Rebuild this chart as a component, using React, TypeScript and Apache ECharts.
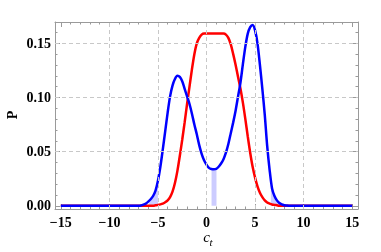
import React, { useEffect, useRef } from "react";
import * as echarts from "echarts";

const xTicks = [-15, -10, -5, 0, 5, 10, 15];
const yTicks = [0, 0.05, 0.1, 0.15];
const xGrid = [-10, -5, 0, 5, 10];
const yGrid = [0.05, 0.1, 0.15];

const blueX = [-15, -7, -6.75, -6.5, -6.25, -6, -5.75, -5.5, -5.25, -5, -4.75, -4.5, -4.25, -4, -3.75, -3.5, -3.25, -3, -2.75, -2.5, -2.25, -2, -1.75, -1.5, -1.25, -1, -0.75, -0.5, -0.25, 0, 0.25, 0.5, 0.75, 1, 1.25, 1.5, 1.75, 2, 2.25, 2.5, 2.75, 3, 3.25, 3.5, 3.75, 4, 4.25, 4.5, 4.75, 5, 5.25, 5.5, 5.75, 6, 6.25, 6.5, 6.75, 7, 7.25, 7.5, 7.75, 8, 8.25, 8.5, 15];
const blueY = [0, 0, 0.0003, 0.001, 0.002, 0.0038, 0.006, 0.009, 0.014, 0.023, 0.036, 0.052, 0.069, 0.086, 0.101, 0.111, 0.117, 0.12, 0.119, 0.115, 0.108, 0.101, 0.094, 0.085, 0.075, 0.066, 0.056, 0.048, 0.042, 0.038, 0.035, 0.034, 0.0337, 0.034, 0.036, 0.039, 0.043, 0.049, 0.057, 0.067, 0.077, 0.088, 0.101, 0.114, 0.131, 0.147, 0.159, 0.165, 0.167, 0.162, 0.15, 0.13, 0.108, 0.084, 0.055, 0.033, 0.016, 0.009, 0.005, 0.0025, 0.0012, 0.0005, 0.0002, 0, 0];

const redX = [-15, -5.5, -5.25, -5, -4.75, -4.5, -4.25, -4, -3.75, -3.5, -3.25, -3, -2.75, -2.5, -2.25, -2, -1.75, -1.5, -1.25, -1, -0.75, -0.5, -0.25, 0, 0.5, 1, 1.5, 1.75, 2, 2.25, 2.5, 2.75, 3, 3.25, 3.5, 3.75, 4, 4.25, 4.5, 4.75, 5, 5.25, 5.5, 5.75, 6, 6.25, 6.5, 6.75, 7, 7.25, 7.5, 15];
const redY = [0, 0, 0.0004, 0.0008, 0.0013, 0.002, 0.0032, 0.005, 0.008, 0.013, 0.021, 0.032, 0.046, 0.061, 0.077, 0.094, 0.11, 0.126, 0.14, 0.15, 0.155, 0.158, 0.159, 0.159, 0.159, 0.159, 0.159, 0.159, 0.158, 0.155, 0.149, 0.14, 0.13, 0.119, 0.108, 0.095, 0.08, 0.064, 0.049, 0.036, 0.026, 0.018, 0.012, 0.008, 0.005, 0.003, 0.002, 0.0012, 0.0008, 0.0004, 0, 0];

const shadeLeftX = [-5.9, -5.75, -5.5, -5.25, -5.0];
const shadeLeftY = [0.0048, 0.006, 0.009, 0.014, 0.023];
const shadeMidX = [0.52, 0.75, 1.03];
const shadeMidY = [0.034, 0.0337, 0.034];
const shadeRightX = [6.63, 6.75, 7.0, 7.25, 7.5, 7.7];
const shadeRightY = [0.022, 0.016, 0.009, 0.005, 0.0025, 0.0014];

const FRAME = "#9a9a9a";
const SERIF = "Liberation Serif, Times New Roman, Times, serif";

export default function App() {
  const ref = useRef<HTMLDivElement>(null);
  useEffect(() => {
    const chart = echarts.init(ref.current!, null, { renderer: "svg" });
    const zip = (xs: number[], ys: number[]) => xs.map((x, i) => [x, ys[i]]);
    const bluePts = zip(blueX, blueY);
    const redPts = zip(redX, redY);
    const shades = [
      zip(shadeLeftX, shadeLeftY),
      zip(shadeMidX, shadeMidY),
      zip(shadeRightX, shadeRightY),
    ];
    const shadeSeries = shades.map((d) => ({
      type: "line",
      data: d,
      smooth: 0.3,
      symbol: "none",
      lineStyle: { width: 0 },
      areaStyle: { color: "rgba(0,0,255,0.2)", opacity: 1 },
      z: 2,
      silent: true,
    }));
    const tickCommon = {
      show: true,
      inside: true,
      length: 5,
      lineStyle: { color: FRAME, width: 1 },
    };
    const minorCommon = {
      show: true,
      splitNumber: 5,
      length: 2.5,
      lineStyle: { color: FRAME, width: 1 },
    };
    const labelFont = {
      fontFamily: SERIF,
      fontWeight: "bold",
      fontSize: 14,
      color: "#000",
    };
    const fmtX = (v: number) => (v < 0 ? "\u2212" + Math.abs(v) : String(v));
    const axisLine = { show: true, onZero: false, lineStyle: { color: FRAME, width: 1 } };
    const xBase = {
      type: "value",
      min: -15.6,
      max: 15.6,
      axisLine,
      splitLine: { show: false },
      minorTick: minorCommon,
    };
    const yBase = {
      type: "value",
      min: -0.003,
      max: 0.1697,
      splitNumber: 3,
      axisLine,
      splitLine: { show: false },
      minorTick: minorCommon,
    };
    chart.setOption({
      animation: false,
      grid: { left: 55, right: 23, top: 22, bottom: 43 },
      xAxis: [
        {
          ...xBase,
          position: "bottom",
          axisTick: { ...tickCommon, customValues: xTicks },
          axisLabel: { ...labelFont, margin: 6, customValues: xTicks, formatter: fmtX },
        },
        {
          ...xBase,
          position: "top",
          axisTick: { ...tickCommon, customValues: xTicks },
          axisLabel: { show: false },
        },
      ],
      yAxis: [
        {
          ...yBase,
          position: "left",
          axisTick: { ...tickCommon, customValues: yTicks },
          axisLabel: { ...labelFont, margin: 4, customValues: yTicks, formatter: (v: number) => v.toFixed(2) },
        },
        {
          ...yBase,
          position: "right",
          axisTick: { ...tickCommon, customValues: yTicks },
          axisLabel: { show: false },
        },
      ],
      graphic: [
        {
          type: "text",
          x: 12,
          y: 115,
          rotation: Math.PI / 2,
          style: {
            text: "P",
            fontFamily: SERIF,
            fontWeight: "bold",
            fontSize: 14,
            fill: "#000",
            align: "center",
            verticalAlign: "middle",
          },
        },
        {
          type: "text",
          x: 210,
          y: 237,
          style: {
            text: "c",
            fontFamily: SERIF,
            fontStyle: "italic",
            fontSize: 15,
            lineHeight: 11,
            fill: "#000",
            align: "right",
            verticalAlign: "middle",
          },
        },
        {
          type: "text",
          x: 209.5,
          y: 242,
          style: {
            text: "t",
            fontFamily: SERIF,
            fontStyle: "italic",
            fontSize: 11,
            lineHeight: 9,
            fill: "#000",
            align: "left",
            verticalAlign: "middle",
          },
        },
      ],
      series: [
        {
          type: "line",
          data: [[0, -1]],
          symbol: "none",
          lineStyle: { opacity: 0 },
          silent: true,
          z: 1,
          markLine: {
            silent: true,
            symbol: ["none", "none"],
            label: { show: false },
            lineStyle: { type: [4, 3], color: "#c8c8c8", width: 1 },
            data: [
              ...xGrid.map((v) => ({ xAxis: v })),
              ...yGrid.map((v) => ({ yAxis: v })),
            ],
          },
        },
        ...shadeSeries,
        {
          type: "line",
          data: redPts,
          smooth: 0.3,
          symbol: "none",
          lineStyle: { color: "#ff0000", width: 2.5 },
          z: 3,
        },
        {
          type: "line",
          data: bluePts,
          smooth: 0.3,
          symbol: "none",
          lineStyle: { color: "#0000ff", width: 2.5 },
          z: 4,
        },
      ],
    });
    return () => chart.dispose();
  }, []);
  return <div ref={ref} style={{ position: "fixed", left: 0, top: 0, width: 381, height: 252 }} />;
}
